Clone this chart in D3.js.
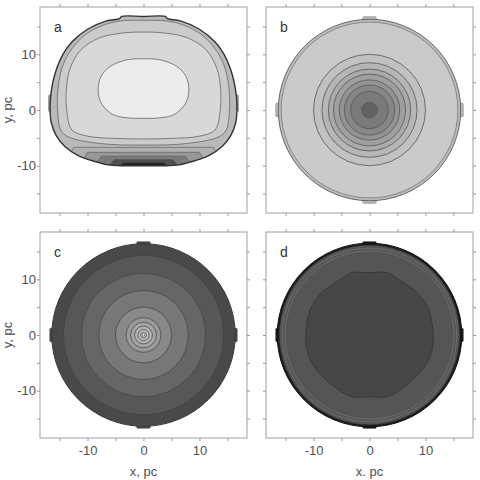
<!DOCTYPE html>
<html>
<head>
<meta charset="utf-8">
<script src="https://cdn.jsdelivr.net/npm/d3@7"></script>
<style>
  body { margin: 0; background: #fff; }
  text { font-family: "Liberation Sans", Arial, sans-serif; }
</style>
</head>
<body>
<div id="container"></div>
<script>
// Graduations
const tickValues = [-15, -10, -5, 0, 5, 10, 15];
const tickLabels = [-10, 0, 10];

// Panneau a : contours, moitié droite (x, y en pc), symétrique en x
const aOuter = [[0, 16.8], [3.9, 16.8], [4.3, 16.4], [6.6, 16.0], [10, 14.5], [12.8, 12.2], [14.4, 10], [15.5, 7.5], [16.2, 5], [16.6, 2.5], [16.7, 0], [16.5, -2.2], [15.6, -4.6], [14, -6.6], [11.5, -8.3], [8.5, -9.3], [6, -9.9], [0, -10]];
const aRing = [[0, 16.1], [4, 16.0], [7, 15.3], [10.3, 13.6], [12.8, 11], [14.3, 8.3], [15.1, 5.3], [15.4, 2], [15.3, -1], [14.8, -3.6], [13.5, -4.8], [8, -6.0], [0, -6.3]];
const aMid = [[0, 14], [4, 13.8], [8, 12.9], [11.2, 10.8], [13.1, 7.5], [13.8, 3.5], [13.6, -1], [12.8, -3.6], [10, -4.7], [5, -5.1], [0, -5.2]];
const aCore = [[0, 9.2], [3, 9.0], [6, 7.8], [7.6, 6.0], [8.1, 3.8], [7.6, 1.3], [5.5, -0.8], [3, -1.4], [0, -1.5]];
// bandes sombres du bas (haut de bande en y, demi-largeur en x)
const aBandTop = [-6.7, -7.6, -8.3, -8.9, -9.4];
const aBandHalf = [12.5, 10, 7.5, 5.2, 3.6];
const aSideBumps = [[16.4, 16.95, -0.3, 2.7], [-16.95, -16.4, -0.3, 2.7]];

// Panneau b : rayons des contours (pc)
const bEdge = [16.3, 15.8];
const bRings = [10.0, 8.5, 7.35, 6.45, 5.4, 4.5, 3.35, 1.4];

// Panneau c
const cEdge = 16.4;
const cRings = [14.3, 11.1, 8.0, 5.0, 3.1, 2.3, 1.6, 1.0, 0.55, 0.25];

// Panneau d
const dEdge = [16.5, 16.1];
const dLines = [15.6, 15.1];
const dCore = [[0, 11.2], [3.2, 11.2], [5, 10.1], [8.3, 7.8], [10.5, 4.8], [11.3, 1.0], [11.3, -2], [10.3, -5.0], [7.9, -7.9], [5, -10.2], [3.1, -11.1], [0, -11.1]];

// petites marches du bord (x0, x1, y0, y1) pour b, c, d
const edgeBumps = [[-1.2, 1.2, 16.0, 16.75], [-1.2, 1.2, -16.75, -16.0], [16.0, 16.75, -1.2, 1.2], [-16.75, -16.0, -1.2, 1.2]];

// Couleurs
const aColors = { outer: "#b9b9b9", ring: "#cbcbcb", mid: "#d8d8d8", core: "#ececec",
                  bands: ["#b0b0b0", "#989898", "#7a7a7a", "#505050", "#262626"] };
const bColors = { edge: ["#bcbcbc", "#cacaca"],
                  rings: ["#c1c1c1", "#b6b6b6", "#aaaaaa", "#9f9f9f", "#939393", "#878787", "#7a7a7a", "#636363"] };
const cColors = { edge: "#494949",
                  rings: ["#575757", "#666666", "#777777", "#898989", "#9a9a9a", "#a6a6a6", "#b2b2b2", "#c0c0c0", "#d2d2d2", "#ececec"] };
const dColors = { edge: ["#1c1c1c", "#555555"], line: "#727272", core: "#474747" };

// Dimensions
const W = 207, H = 206;
const panels = [
  { id: "a", x: 40, y: 7, left: true, bottom: false },
  { id: "b", x: 266, y: 7, left: false, bottom: false },
  { id: "c", x: 40, y: 232, left: true, bottom: true },
  { id: "d", x: 266, y: 232, left: false, bottom: true }
];

const xScale = d3.scaleLinear().domain([-18.5, 18.5]).range([0, W]);
const yScale = d3.scaleLinear().domain([-18.5, 18.5]).range([H, 0]);

const svg = d3.select("#container").append("svg")
  .attr("width", 480).attr("height", 480);

const line = d3.line()
  .x(d => xScale(d[0]))
  .y(d => yScale(d[1]))
  .curve(d3.curveCatmullRomClosed);

const poly = d3.line()
  .x(d => xScale(d[0]))
  .y(d => yScale(d[1]))
  .curve(d3.curveLinearClosed);

// moitié droite -> contour complet
function mirror(half) {
  const left = half.slice(1, -1).reverse().map(d => [-d[0], d[1]]);
  return half.concat(left);
}

function circle(g, r, fill, stroke, sw) {
  g.append("ellipse")
    .attr("cx", xScale(0)).attr("cy", yScale(0))
    .attr("rx", xScale(r) - xScale(0))
    .attr("ry", yScale(0) - yScale(r))
    .attr("fill", fill).attr("stroke", stroke).attr("stroke-width", sw);
}

function bumps(g, list, fill, stroke) {
  g.selectAll(null).data(list).enter().append("rect")
    .attr("x", d => xScale(d[0]))
    .attr("y", d => yScale(d[3]))
    .attr("width", d => xScale(d[1]) - xScale(d[0]))
    .attr("height", d => yScale(d[2]) - yScale(d[3]))
    .attr("rx", 1)
    .attr("fill", fill).attr("stroke", stroke).attr("stroke-width", 0.6);
}

const draw = {
  a(g) {
    const outer = mirror(aOuter);
    bumps(g, aSideBumps, "#a8a8a8", "#666");
    g.append("clipPath").attr("id", "clip-a")
      .append("path").attr("d", line(outer));
    g.append("path").attr("d", line(outer)).attr("fill", aColors.outer);
    const inner = g.append("g").attr("clip-path", "url(#clip-a)");
    inner.append("path").attr("d", line(mirror(aRing)))
      .attr("fill", aColors.ring).attr("stroke", "#666").attr("stroke-width", 0.8);
    inner.append("path").attr("d", line(mirror(aMid)))
      .attr("fill", aColors.mid).attr("stroke", "#666").attr("stroke-width", 0.8);
    inner.append("path").attr("d", line(mirror(aCore)))
      .attr("fill", aColors.core).attr("stroke", "#666").attr("stroke-width", 0.8);
    inner.selectAll(".band").data(aBandTop).enter().append("path")
      .attr("class", "band")
      .attr("d", (t, i) => poly([
        [-aBandHalf[i] - 2, -11], [-aBandHalf[i], t], [aBandHalf[i], t], [aBandHalf[i] + 2, -11]
      ]))
      .attr("fill", (t, i) => aColors.bands[i])
      .attr("stroke", "#555").attr("stroke-width", 0.6);
    g.append("path").attr("d", line(outer))
      .attr("fill", "none").attr("stroke", "#333").attr("stroke-width", 1.4);
  },
  b(g) {
    bumps(g, edgeBumps, bColors.edge[0], "#777");
    circle(g, bEdge[0], bColors.edge[0], "#666", 1);
    circle(g, bEdge[1], bColors.edge[1], "#777", 0.8);
    bRings.forEach((r, i) => circle(g, r, bColors.rings[i], "#555", 0.8));
  },
  c(g) {
    bumps(g, edgeBumps, cColors.edge, cColors.edge);
    circle(g, cEdge, cColors.edge, "#3a3a3a", 1);
    cRings.forEach((r, i) => circle(g, r, cColors.rings[i], "#404040", 0.7));
  },
  d(g) {
    bumps(g, edgeBumps, dColors.edge[0], dColors.edge[0]);
    circle(g, dEdge[0], dColors.edge[0], "#111", 1);
    circle(g, dEdge[1], dColors.edge[1], "#3a3a3a", 0.6);
    dLines.forEach(r => circle(g, r, "none", dColors.line, 0.8));
    g.append("path").attr("d", line(mirror(dCore)))
      .attr("fill", dColors.core).attr("stroke", "#333").attr("stroke-width", 0.8);
  }
};

panels.forEach(p => {
  const g = svg.append("g").attr("transform", `translate(${p.x},${p.y})`);

  draw[p.id](g);

  // cadre
  g.append("rect").attr("width", W).attr("height", H)
    .attr("fill", "none").attr("stroke", "#a0a0a0").attr("stroke-width", 1);

  // axes
  const fmt = show => d => (show && tickLabels.includes(d)) ? String(d) : "";
  const axes = [
    { gen: d3.axisTop(xScale).tickFormat(fmt(false)), t: "translate(0,0)" },
    { gen: d3.axisBottom(xScale).tickFormat(fmt(p.bottom)).tickPadding(5), t: `translate(0,${H})` },
    { gen: d3.axisLeft(yScale).tickFormat(fmt(p.left)).tickPadding(1), t: "translate(0,0)" },
    { gen: d3.axisRight(yScale).tickFormat(fmt(false)), t: `translate(${W},0)` }
  ];
  axes.forEach(a => {
    const ax = g.append("g").attr("transform", a.t)
      .call(a.gen.tickValues(tickValues).tickSize(3).tickSizeOuter(0));
    ax.select(".domain").remove();
    ax.selectAll(".tick line").attr("stroke", "#9a9a9a");
    ax.selectAll(".tick text").attr("fill", "#505050")
      .style("font-size", "13px").style("font-family", "'Liberation Sans', Arial, sans-serif");
  });

  // lettre du panneau
  g.append("text").attr("x", 14).attr("y", 25)
    .attr("fill", "#333").style("font-size", "14px").text(p.id);

  // titres d'axes
  if (p.left) {
    g.append("text")
      .attr("transform", `translate(-28,${yScale(0)}) rotate(-90)`)
      .attr("text-anchor", "middle").attr("fill", "#505050")
      .style("font-size", "13px").text("y, pc");
  }
  if (p.bottom) {
    g.append("text")
      .attr("x", xScale(0)).attr("y", H + 38)
      .attr("text-anchor", "middle").attr("fill", "#505050")
      .style("font-size", "13px").text(p.id === "c" ? "x, pc" : "x. pc");
  }
});
</script>
</body>
</html>
